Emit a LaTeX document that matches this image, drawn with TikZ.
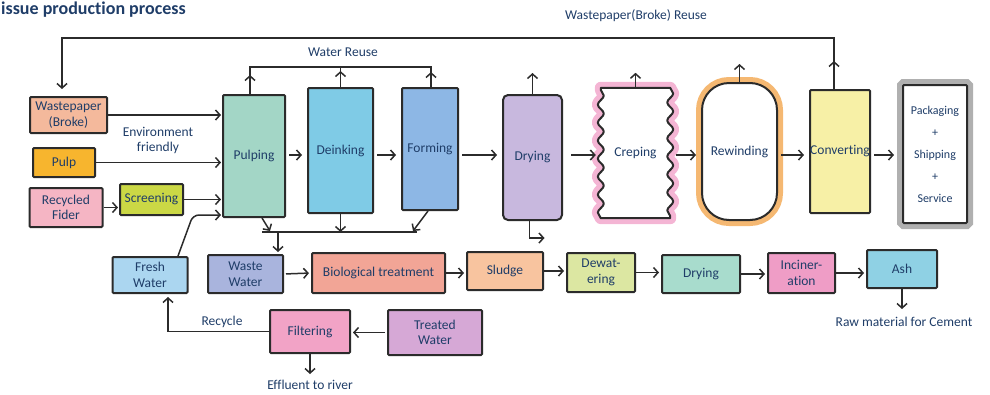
\documentclass[tikz,border=0pt]{standalone}
\usepackage{fontspec}
\setmainfont{Carlito}[Ligatures=NoCommon]
\usetikzlibrary{arrows.meta,decorations.pathmorphing,calc}
\definecolor{ink}{HTML}{2B2B2B}
\definecolor{navy}{HTML}{1F3D68}
\definecolor{cWP}{HTML}{F4B99C}
\definecolor{cPulp}{HTML}{F7B52E}
\definecolor{cRec}{HTML}{F5B5C4}
\definecolor{cScr}{HTML}{CBD845}
\definecolor{cPulping}{HTML}{A3D6C6}
\definecolor{cDeink}{HTML}{7FCBE6}
\definecolor{cForm}{HTML}{8DB7E5}
\definecolor{cDry}{HTML}{C8B8DE}
\definecolor{cConv}{HTML}{F7F0A6}
\definecolor{cFresh}{HTML}{ABD6F0}
\definecolor{cWaste}{HTML}{A9B4DD}
\definecolor{cBio}{HTML}{F2A596}
\definecolor{cSludge}{HTML}{F8C49F}
\definecolor{cDew}{HTML}{DCE7A2}
\definecolor{cDryB}{HTML}{A8DCCD}
\definecolor{cInc}{HTML}{EF9DC6}
\definecolor{cAsh}{HTML}{8FD1E4}
\definecolor{cFilt}{HTML}{F2A3C6}
\definecolor{cTreat}{HTML}{D6A8D6}
\definecolor{glowPink}{HTML}{F2A8CC}
\definecolor{glowOrange}{HTML}{F5B872}
\definecolor{glowGray}{HTML}{B0B0B0}
\newcommand{\lblfont}{\fontsize{13.5}{15.5}\selectfont}
\begin{document}
\begin{tikzpicture}[x=1pt,y=-1pt,
  box/.style={draw=ink, line width=2pt, inner sep=0pt, align=center,
    font=\lblfont, text=navy, rounded corners=1pt},
  lbl/.style={inner sep=0pt, align=center, font=\lblfont, text=navy},
  ln/.style={draw=ink, line width=1.5pt},
  arr/.style={draw=ink, line width=1.5pt, -{Straight Barb[length=4.5pt,width=10pt]}},
  harr/.style={arr, shorten <=3pt, shorten >=5pt}]
\useasboundingbox (0,0) rectangle (990,394);

\node[anchor=base west, inner sep=0pt, text=navy,
  font=\fontsize{18}{22}\selectfont\bfseries] (title) at (1,14) {issue production process};

% top row inputs
\node[box, fill=cWP, minimum width=77, minimum height=36] (wp) at (68.5,115) {Wastepaper\\(Broke)};
\node[box, fill=cPulp, minimum width=62, minimum height=29] (pulp) at (64,162.5) {Pulp};
\node[box, fill=cRec, minimum width=73, minimum height=39] (recyc) at (66,207.5) {Recycled\\Fider};
\node[box, fill=cScr, minimum width=63, minimum height=31] (screen) at (151.5,199.5) {Screening};

% process row
\node[box, fill=cPulping, minimum width=62, minimum height=122] (pulping) at (254,156) {Pulping};
\node[box, fill=cDeink, minimum width=65, minimum height=125] (deink) at (340.5,150.5) {Deinking};
\node[box, fill=cForm, minimum width=56, minimum height=122] (forming) at (430,149) {Forming};
\node[box, fill=cDry, minimum width=59, minimum height=125, rounded corners=5pt] (drying) at (532.5,157.5) {Drying};
\node[lbl, minimum width=75, minimum height=130] (creping) at (635.5,153) {};
\path[preaction={draw=glowPink, line width=12pt, line join=round, opacity=0.85},
  fill=white, draw=ink, line width=2pt, line join=round]
  ([xshift=3pt]creping.north west) -- ([xshift=-3pt]creping.north east)
  decorate[decoration={snake, segment length=18pt, amplitude=3pt}]{ -- ([xshift=-3pt]creping.south east)}
  -- ([xshift=3pt]creping.south west)
  decorate[decoration={snake, segment length=18pt, amplitude=3pt}]{ -- ([xshift=3pt]creping.north west)}
  -- cycle;
\node[lbl] at (creping.center) {Creping};
\node[box, fill=white, minimum width=75, minimum height=137, rounded corners=27pt,
  preaction={draw=glowOrange, line width=12pt}] (rewind) at (739.5,151.5) {Rewinding};
\node[box, fill=cConv, minimum width=60, minimum height=123] (conv) at (840,151.5) {Converting};
\node[box, fill=white, minimum width=64, minimum height=138,
  preaction={draw=glowGray, line width=12pt},
  font=\fontsize{12}{22}\selectfont] (pack) at (935,154) {Packaging\\+\\Shipping\\+\\Service};

% bottom rows
\node[box, fill=cFresh, minimum width=75, minimum height=36] (fresh) at (150,275) {Fresh\\Water};
\node[box, fill=cWaste, minimum width=75, minimum height=38] (waste) at (245.5,274) {Waste\\Water};
\node[box, fill=cBio, minimum width=133, minimum height=40] (bio) at (378.5,273) {Biological treatment};
\node[box, fill=cSludge, minimum width=76, minimum height=38] (sludge) at (505,271) {Sludge};
\node[box, fill=cDew, minimum width=68, minimum height=39] (dewat) at (601,272.5) {Dewat-\\ering};
\node[box, fill=cDryB, minimum width=78, minimum height=38] (dryb) at (701,274) {Drying};
\node[box, fill=cInc, minimum width=67, minimum height=40] (incin) at (801.5,273) {Inciner-\\ation};
\node[box, fill=cAsh, minimum width=70, minimum height=38] (ash) at (902,269) {Ash};
\node[box, fill=cFilt, minimum width=80, minimum height=43] (filt) at (310,331.5) {Filtering};
\node[box, fill=cTreat, minimum width=94, minimum height=45] (treated) at (435,332.5) {Treated\\Water};

% free labels
\node[lbl] (env) at (158,140.5) {Environment\\friendly};
\node[lbl] (wreuse) at (343,52) {Water Reuse};
\node[lbl] (breuse) at (636,16) {Wastepaper(Broke) Reuse};
\node[lbl] (recyl) at (222,322) {Recycle};
\node[lbl] (effl) at (310,385) {Effluent to river};
\node[lbl] (raw) at (904,322) {Raw material for Cement};

% coordinates
\coordinate (row) at (0,155);
\coordinate (lpR) at (834,38);
\coordinate (lpL) at (62,38);
\coordinate (wrL) at (250,67);
\coordinate (wrR) at (431,67);
\coordinate (fw1) at (193,215);
\coordinate (cl) at (262,232);
\coordinate (cr) at (417,232);
\coordinate (cd) at (278,232);
\coordinate (rc) at (168,332);

% inputs into pulping
\draw[arr, shorten >=1pt] (wp.east) -- (pulping.west |- wp.east);
\draw[arr, shorten >=1pt] (pulp.east) -- (pulping.west |- pulp.east);
\draw[arr, shorten >=1pt] (recyc.east) -- (screen.west |- recyc.east);
\draw[arr, shorten >=1pt] (screen.east) -- (pulping.west |- screen.east);
\draw[arr, shorten >=1pt, rounded corners=6pt] ([xshift=28pt]fresh.north) -- (fw1) -- (pulping.west |- fw1);

% main chain
\draw[harr] (pulping.east |- row) -- (deink.west |- row);
\draw[harr] (deink.east |- row) -- (forming.west |- row);
\draw[harr] (forming.east |- row) -- (drying.west |- row);
\draw[harr, shorten <=8pt, shorten >=2pt] (drying.east |- row) -- (creping.west |- row);
\draw[harr] (creping.east |- row) -- (rewind.west |- row);
\draw[harr] (rewind.east |- row) -- (conv.west |- row);
\draw[harr, shorten >=8pt] (conv.east |- row) -- (pack.west |- row);

% water reuse
\draw[ln] (pulping.north -| wrL) -- (wrL) -- (wrR) -- (forming.north -| wrR);
\draw[ln] (deink.north) -- (deink.north |- wrL);
\draw[arr] (pulping.north -| wrL) -- ++(0,-19);
\draw[arr] (deink.north) -- ++(0,-16);
\draw[arr] (forming.north -| wrR) -- ++(0,-15);

% ups from drying, creping, rewinding
\draw[arr] (drying.north) -- ++(0,-21);
\draw[arr] (creping.north) -- ++(0,-15);
\draw[arr] (rewind.north) -- ++(0,-18);
\draw[arr] ([xshift=-3pt]drying.south) -- ++(0,17) -- ++(15,0);

% broke reuse loop
\draw[arr, shorten >=7pt] (conv.north -| lpR) -- (lpR) -- (lpL) -- (wp.north -| lpL);
\draw[arr] (conv.north -| lpR) -- ++(0,-28);

% collector to waste water
\draw[ln] (cl) -- (cr);
\draw[arr] ([xshift=8pt]pulping.south) -- ($(cl)+(8,-1)$);
\draw[arr] (deink.south) -- (deink.south |- cl);
\draw[arr] ([xshift=-2pt]forming.south) -- ($(cr)+(-4,-1)$);
\draw[arr, shorten >=2pt] (cd) -- (waste.north -| cd);

% bottom chain
\draw[arr, shorten <=2pt, shorten >=2pt] (waste.east) -- (bio.west);
\draw[arr, shorten >=2pt] (bio.east) -- (bio.east -| sludge.west);
\draw[arr, shorten >=2pt] (sludge.east) -- (sludge.east -| dewat.west);
\draw[arr, shorten >=2pt] (dewat.east) -- (dewat.east -| dryb.west);
\draw[arr, shorten >=2pt] (dryb.east) -- (dryb.east -| incin.west);
\draw[arr, shorten >=2pt] (incin.east) -- (incin.east -| ash.west);
\draw[arr] (ash.south) -- ++(0,20);
\draw[arr, shorten <=2pt, shorten >=2pt] (treated.west) -- (treated.west -| filt.east);
\draw[arr, shorten >=3pt] (filt.west) -- (filt.west -| rc) -- (fresh.south -| rc);
\draw[arr] (filt.south) -- ++(0,20);
\end{tikzpicture}
\end{document}
